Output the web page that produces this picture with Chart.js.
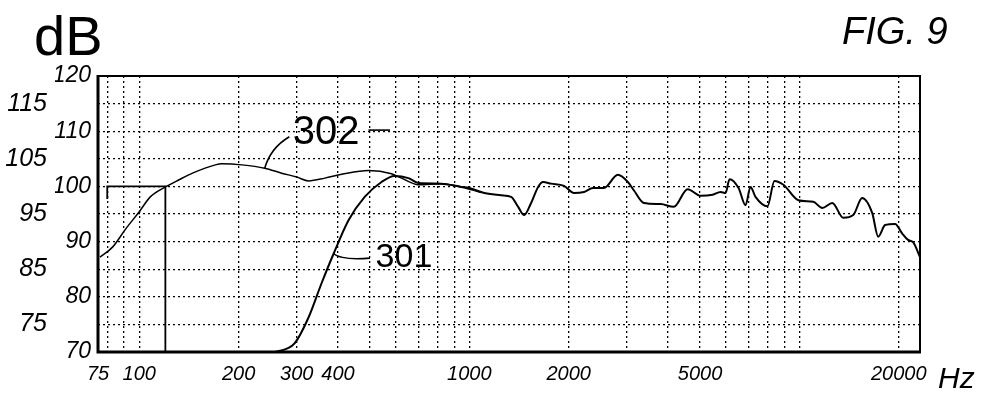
<!DOCTYPE html>
<html>
<head>
<meta charset="utf-8">
<script src="https://cdn.jsdelivr.net/npm/chart.js@4/dist/chart.umd.min.js"></script>
<style>
  body { margin: 0; background: #fff; }
  canvas { display: block; }
</style>
</head>
<body>
<canvas id="fig9" width="981" height="393"></canvas>
<script>
// frequency response (Hz / dB)
const freq302 = [76, 83, 91, 100, 108, 120, 132, 145, 170, 178, 205, 240, 270, 300, 326, 365, 411, 495, 581, 623, 701, 823, 946, 1087];
const db302 = [87.2, 89.0, 92.3, 95.4, 98.1, 99.9, 101.2, 102.4, 103.9, 104.1, 103.9, 103.3, 102.4, 101.7, 101.0, 101.5, 102.2, 102.9, 102.3, 101.5, 100.3, 100.5, 99.9, 98.9];

const freq301 = [258, 280, 296, 326, 357, 388, 431, 482, 542, 593,
  654, 701, 823, 946, 1000, 1110, 1249, 1339, 1406, 1466,
  1539, 1616, 1673, 1769, 1936, 2076, 2226, 2370, 2558, 2819,
  3023, 3151, 3379, 3803, 4163, 4587, 5022, 5461, 5772, 5976,
  6144, 6543, 6869, 7112, 7364, 8005, 8404, 8947, 9932, 11022,
  11735, 12582, 13584, 14559, 15500, 16619, 17329, 18190, 19498, 20473,
  21345, 22107, 23200];
const db301 = [70, 70.6, 71.6, 76.3, 82.5, 87.8, 93.9, 98.1, 100.8, 101.9,
  101.5, 100.6, 100.5, 99.9, 99.7, 98.8, 98.4, 98.1, 96.3, 94.8,
  97.0, 99.9, 100.8, 100.5, 100.1, 98.8, 99.0, 99.7, 99.7, 102.1,
  100.8, 99.3, 97.0, 96.8, 96.3, 99.5, 98.3, 98.5, 99.0, 98.8,
  101.3, 99.7, 96.6, 99.9, 98.1, 96.4, 101.0, 100.3, 97.5, 97.2,
  96.1, 97.0, 94.3, 94.8, 97.9, 95.2, 90.9, 93.0, 93.2, 91.5,
  90.3, 89.9, 87.2];

// hand drawn box around the low end
const boxFreq = [80, 80, 120, 120];
const boxDb = [97.7, 100, 100, 70];

// axes
const xMin = 75, xMax = 23200;
const xGrid = [75, 80, 90, 100, 200, 300, 400, 500, 600, 700, 800, 900, 1000,
  2000, 3000, 4000, 5000, 6000, 7000, 8000, 9000, 10000, 20000];
const xLabelValues = [75, 100, 200, 300, 400, 1000, 2000, 5000, 20000];
const xLabelTexts = ['75', '100', '200', '300', '400', '1000', '2000', '5000', '20000'];
const yMin = 70, yMax = 120;

function pts(xs, ys) {
    return xs.map((x, i) => ({ x: x, y: ys[i] }));
}

const handFont = '"Liberation Sans", "DejaVu Sans", sans-serif';

const notes = {
    id: 'notes',
    afterDraw(chart) {
        const c = chart.ctx;
        const x = chart.scales.x, y = chart.scales.y;
        const a = chart.chartArea;
        c.save();
        c.strokeStyle = '#000';
        c.setLineDash([]);
        // frame: heavy left/bottom, lighter top/right
        c.lineWidth = 2;
        c.beginPath();
        c.moveTo(a.left, a.top);
        c.lineTo(a.right, a.top);
        c.lineTo(a.right, a.bottom);
        c.stroke();
        c.lineWidth = 3;
        c.beginPath();
        c.moveTo(a.left, a.top - 1);
        c.lineTo(a.left, a.bottom);
        c.lineTo(a.right + 1, a.bottom);
        c.stroke();

        c.fillStyle = '#000';
        c.textBaseline = 'alphabetic';
        c.font = '56px ' + handFont;
        c.fillText('dB', 34, 55);
        c.font = 'italic 38px ' + handFont;
        c.fillText('FIG. 9', 842, 44);
        c.font = 'italic 30px ' + handFont;
        c.fillText('Hz', 938, 388);

        // 302 label with leader
        c.lineWidth = 1.6;
        c.beginPath();
        c.moveTo(x.getPixelForValue(240), y.getPixelForValue(103.3));
        c.quadraticCurveTo(x.getPixelForValue(250), y.getPixelForValue(107),
            x.getPixelForValue(285), y.getPixelForValue(109));
        c.stroke();
        c.font = '40px ' + handFont;
        c.fillText('302', x.getPixelForValue(292), y.getPixelForValue(107.7));
        c.beginPath();
        c.moveTo(x.getPixelForValue(495), y.getPixelForValue(110.2));
        c.lineTo(x.getPixelForValue(575), y.getPixelForValue(110.2));
        c.stroke();

        // 301 label with leader
        c.beginPath();
        c.moveTo(x.getPixelForValue(388), y.getPixelForValue(87.8));
        c.quadraticCurveTo(x.getPixelForValue(410), y.getPixelForValue(86.6),
            x.getPixelForValue(500), y.getPixelForValue(87.0));
        c.stroke();
        c.font = '34px ' + handFont;
        c.fillText('301', x.getPixelForValue(520), y.getPixelForValue(85.4));
        c.restore();
    }
};

const ctx = document.getElementById('fig9').getContext('2d');
new Chart(ctx, {
    type: 'line',
    data: {
        datasets: [
            {
                label: '302',
                data: pts(freq302, db302),
                borderColor: '#000',
                borderWidth: 1.5,
                pointRadius: 0,
                cubicInterpolationMode: 'monotone'
            },
            {
                label: '301',
                data: pts(freq301, db301),
                borderColor: '#000',
                borderWidth: 2,
                pointRadius: 0,
                cubicInterpolationMode: 'monotone'
            },
            {
                label: 'box',
                data: pts(boxFreq, boxDb),
                borderColor: '#000',
                borderWidth: 1.8,
                pointRadius: 0,
                tension: 0
            }
        ]
    },
    options: {
        responsive: false,
        animation: false,
        layout: { padding: { top: 76, right: 61, bottom: 0, left: 0 } },
        plugins: {
            legend: { display: false },
            tooltip: { enabled: false }
        },
        scales: {
            x: {
                type: 'logarithmic',
                min: xMin,
                max: xMax,
                afterBuildTicks(scale) {
                    scale.ticks = xGrid.map(v => ({ value: v }));
                },
                afterFit(scale) { scale.height = 41; },
                ticks: {
                    autoSkip: false,
                    maxRotation: 0,
                    minRotation: 0,
                    padding: 10,
                    color: '#000',
                    font: { family: handFont, size: 20, style: 'italic' },
                    callback(v) {
                        const i = xLabelValues.indexOf(v);
                        return i >= 0 ? xLabelTexts[i] : '';
                    }
                },
                grid: { color: '#000', lineWidth: 1.3, drawTicks: false },
                border: { display: false, dash: [2, 3] }
            },
            y: {
                position: 'left',
                weight: 0,
                min: yMin,
                max: yMax,
                afterFit(scale) { scale.width = 43; },
                ticks: {
                    stepSize: 5,
                    autoSkip: false,
                    padding: 7,
                    color: '#000',
                    font: { family: handFont, size: 23, style: 'italic' },
                    callback(v) { return v % 10 === 0 ? String(v) : ''; }
                },
                grid: { color: '#000', lineWidth: 1.3, drawTicks: false },
                border: { display: false, dash: [2, 3] }
            },
            y2: {
                position: 'left',
                weight: 1,
                min: yMin,
                max: yMax,
                afterFit(scale) { scale.width = 55; },
                ticks: {
                    stepSize: 5,
                    autoSkip: false,
                    padding: 0,
                    color: '#000',
                    font: { family: handFont, size: 25, style: 'italic' },
                    callback(v) { return v % 10 === 5 ? String(v) : ''; }
                },
                grid: { display: false },
                border: { display: false }
            }
        }
    },
    plugins: [notes]
});
</script>
</body>
</html>
